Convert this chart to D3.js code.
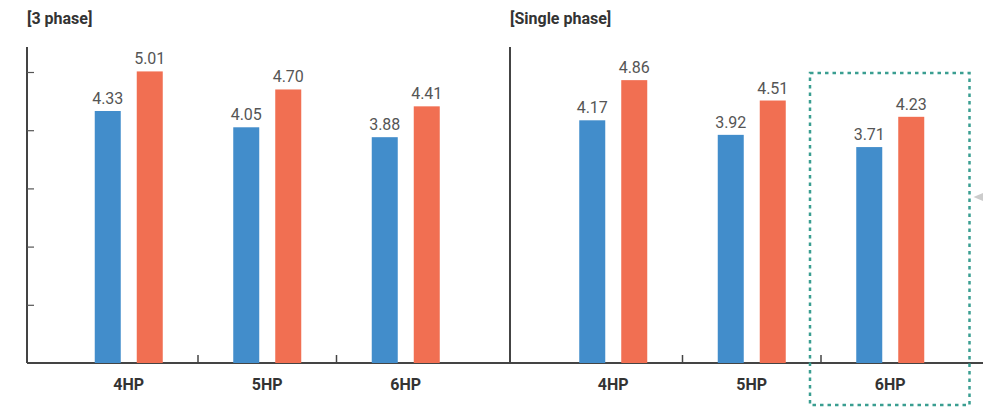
<!DOCTYPE html>
<html>
<head>
<meta charset="utf-8">
<script src="https://cdn.jsdelivr.net/npm/d3@7"></script>
<style>
  html, body { margin: 0; padding: 0; background: #fff; }
  svg { display: block; }
  text { font-family: Roboto, "Open Sans", sans-serif; }
</style>
</head>
<body>
<svg id="chart" width="983" height="410"></svg>
<script>
const panels = ["[3 phase]", "[Single phase]"];
const categories = ["4HP", "5HP", "6HP"];
const seriesNames = ["blue", "orange"];
const threePhaseBlue = [4.33, 4.05, 3.88];
const threePhaseOrange = [5.01, 4.70, 4.41];
const singlePhaseBlue = [4.17, 3.92, 3.71];
const singlePhaseOrange = [4.86, 4.51, 4.23];
const yTicks = [1, 2, 3, 4, 5];
const colors = { blue: "#428DCB", orange: "#F16F52" };

const panelData = [
  [threePhaseBlue, threePhaseOrange],
  [singlePhaseBlue, singlePhaseOrange]
];

const svg = d3.select("#chart");
const baseY = 363;
const y = d3.scaleLinear().domain([0, 5]).range([baseY, 72]);
const yTop = y(5.43);

const layouts = [
  { axisX: 27, bandRange: [59.5, 475], showTicks: true },
  { axisX: 510, bandRange: [544, 959.5], showTicks: false }
];

// baseline across entire width
svg.append("line")
  .attr("x1", 27).attr("x2", 983)
  .attr("y1", baseY).attr("y2", baseY)
  .attr("stroke", "#444").attr("stroke-width", 2);

panelData.forEach((pd, pi) => {
  const L = layouts[pi];
  const g = svg.append("g");

  // title
  g.append("text")
    .attr("x", L.axisX).attr("y", 24)
    .attr("font-size", 16).attr("font-weight", "bold")
    .attr("fill", "#333")
    .text(panels[pi]);

  // y axis
  g.append("line")
    .attr("x1", L.axisX).attr("x2", L.axisX)
    .attr("y1", yTop).attr("y2", baseY)
    .attr("stroke", "#444").attr("stroke-width", 2);
  if (L.showTicks) {
    const yAxis = d3.axisRight(y).tickValues(yTicks).tickSize(7).tickFormat("");
    const ga = g.append("g").attr("transform", `translate(${L.axisX},0)`).call(yAxis);
    ga.select(".domain").remove();
    ga.selectAll(".tick line").attr("stroke", "#555").attr("stroke-width", 1.2);
  }

  const x0 = d3.scaleBand().domain(categories).range(L.bandRange);
  const x1 = d3.scaleBand().domain(seriesNames).range([-34, 34]).paddingInner(16 / 42);

  // separator ticks between categories
  categories.slice(1).forEach(c => {
    const sx = x0(c);
    g.append("line")
      .attr("x1", sx).attr("x2", sx)
      .attr("y1", baseY - 8).attr("y2", baseY)
      .attr("stroke", "#444").attr("stroke-width", 1.5);
  });

  seriesNames.forEach((s, si) => {
    const vals = pd[si];
    categories.forEach((c, ci) => {
      const cx = x0(c) + x0.bandwidth() / 2;
      const bx = cx + x1(s);
      g.append("rect")
        .attr("x", bx).attr("width", x1.bandwidth())
        .attr("y", y(vals[ci])).attr("height", baseY - y(vals[ci]))
        .attr("fill", colors[s]);
      g.append("text")
        .attr("x", bx + x1.bandwidth() / 2).attr("y", y(vals[ci]) - 7)
        .attr("text-anchor", "middle")
        .attr("font-size", 16).attr("fill", "#555")
        .text(vals[ci].toFixed(2));
    });
  });

  // category labels
  categories.forEach(c => {
    g.append("text")
      .attr("x", x0(c) + x0.bandwidth() / 2).attr("y", 390)
      .attr("text-anchor", "middle")
      .attr("font-size", 16).attr("font-weight", "bold").attr("fill", "#333")
      .text(c);
  });

  if (pi === 1) {
    // highlight box around last category
    const last = categories[categories.length - 1];
    const bx0 = x0(last) - 11;
    const bx1 = x0(last) + x0.bandwidth() + 10;
    svg.append("rect")
      .attr("x", bx0).attr("y", 73)
      .attr("width", bx1 - bx0).attr("height", 405 - 73)
      .attr("fill", "none")
      .attr("stroke", "#3A9E91").attr("stroke-width", 2.5)
      .attr("stroke-dasharray", "3.5,4");
    // small arrow pointer at right edge
    svg.append("path")
      .attr("d", `M${bx1 + 4},197 L983,193 L983,201 Z`)
      .attr("fill", "#ccc");
  }
});
</script>
</body>
</html>
